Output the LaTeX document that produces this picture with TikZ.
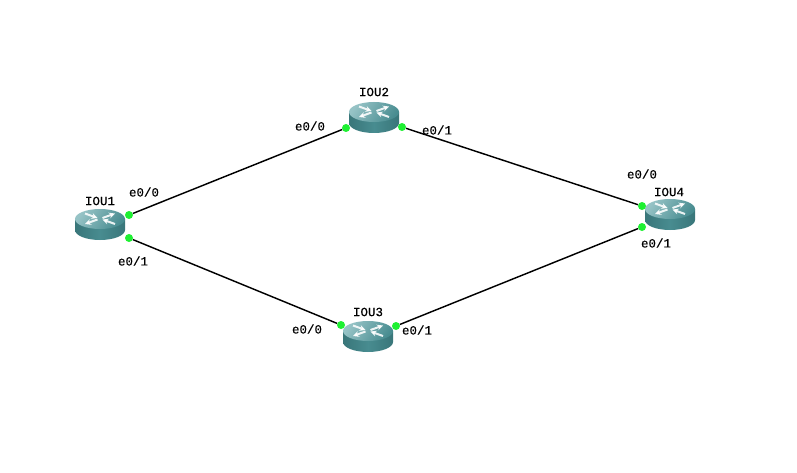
\documentclass[tikz,border=0pt]{standalone}
\usepackage{fontspec}
\setmainfont[RawFeature={embolden=0.5}]{Liberation Mono}
\usetikzlibrary{arrows.meta}
\definecolor{portgreen}{RGB}{30,240,50}
\definecolor{bodydark}{RGB}{62,128,132}
\definecolor{bodymid}{RGB}{72,140,144}
\definecolor{bodylight}{RGB}{150,195,198}
\tikzset{
  x=1pt,y=-1pt,
  port/.style={circle,fill=portgreen,draw=none,inner sep=0pt,minimum size=8pt},
  link/.style={draw=black,line width=1.45pt},
  lbl/.style={inner sep=0pt,font=\fontsize{12.5}{14}\selectfont,text=black},
  hostbox/.style={inner sep=0pt,minimum width=50pt,minimum height=31pt},
  arrowmark/.style={draw=white,line width=2pt,opacity=.88,-{Stealth[length=6pt,width=6pt]}},
  router/.pic={
    \shade[left color=bodydark!92!black,right color=bodydark!92!black,middle color=bodymid] (-25,0) -- (-25,11) arc[start angle=180,end angle=360,x radius=25,y radius=-10] -- (25,0) -- cycle;
    \shade[left color=bodylight,right color=bodymid,shading angle=55] (0,0) ellipse[x radius=25,y radius=10];
    \draw[arrowmark] (-15,-5.5) -- (-2.5,-1);
    \draw[arrowmark] (15,5) -- (2.5,0.5);
    \draw[arrowmark] (2.5,-1) -- (15,-5.5);
    \draw[arrowmark] (-2.5,0.5) -- (-15,5);
  }
}
\begin{document}
\begin{tikzpicture}
\useasboundingbox (0,0) rectangle (797,473);
\fill[white] (0,0) rectangle (797,473);
% routers
\pic at (100,219) {router};
\pic at (374,112) {router};
\pic at (368,331) {router};
\pic at (670,209) {router};
\node[hostbox] (r1) at (100,225) {};
\node[hostbox] (r2) at (374,118) {};
\node[hostbox] (r3) at (368,337) {};
\node[hostbox] (r4) at (670,215) {};
% ports
\node[port] (p1a) at (129,215) {};
\node[port] (p1b) at (129,238) {};
\node[port] (p2a) at (346,128) {};
\node[port] (p2b) at (402,127) {};
\node[port] (p3a) at (341,325) {};
\node[port] (p3b) at (396,326) {};
\node[port] (p4a) at (642,206) {};
\node[port] (p4b) at (642,227) {};
% links
\draw[link] (p1a) -- (p2a);
\draw[link] (p2b) -- (p4a);
\draw[link] (p1b) -- (p3a);
\draw[link] (p3b) -- (p4b);
% names
\node[lbl] (n1) at (100,201) {IOU1};
\node[lbl] (n2) at (374,92) {IOU2};
\node[lbl] (n3) at (368,312) {IOU3};
\node[lbl] (n4) at (669,192) {IOU4};
% interface labels
\node[lbl] (l1) at (144,192) {e0/0};
\node[lbl] (l2) at (133,261) {e0/1};
\node[lbl] (l3) at (310,126) {e0/0};
\node[lbl] (l4) at (437,130) {e0/1};
\node[lbl] (l5) at (307,329) {e0/0};
\node[lbl] (l6) at (417,330) {e0/1};
\node[lbl] (l7) at (642,174) {e0/0};
\node[lbl] (l8) at (656,243) {e0/1};
\end{tikzpicture}
\end{document}
